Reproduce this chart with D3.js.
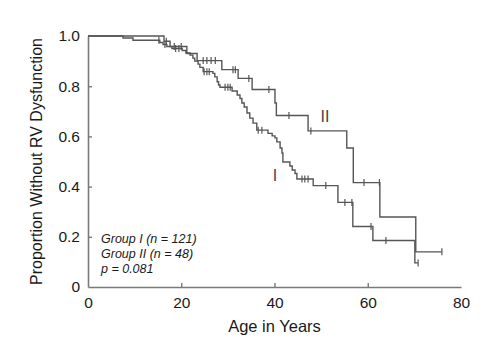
<!DOCTYPE html>
<html>
<head>
<meta charset="utf-8">
<script src="https://cdn.jsdelivr.net/npm/d3@7"></script>
<style>
  body { margin: 0; background: #fff; }
  svg { display: block; font-family: "Liberation Sans", Arial, sans-serif; }
</style>
</head>
<body>
<svg id="chart"></svg>
<script>
// step times (age) and survival after each step
const group1Times = [7.5, 9.65, 15.4, 16.1, 16.9, 18.0, 20.2, 21.0, 21.9, 22.5, 22.9, 23.6, 24.0, 24.7,
  26.8, 27.2, 27.7, 28.0, 28.3, 30.9, 32.0, 32.6, 33.0, 33.5, 34.1, 34.7, 35.4, 36.2,
  38.6, 39.5, 40.1, 40.5, 41.2, 41.6, 41.8, 43.3, 43.8, 44.4, 44.8, 48.3, 53.6, 56.8, 61.1, 70.1];
const group1Surv = [0.992, 0.983, 0.974, 0.966, 0.958, 0.950, 0.942, 0.932, 0.924, 0.912, 0.900, 0.888, 0.875, 0.858,
  0.851, 0.837, 0.818, 0.805, 0.796, 0.781, 0.765, 0.751, 0.733, 0.717, 0.693, 0.673, 0.653, 0.625,
  0.612, 0.602, 0.594, 0.578, 0.554, 0.534, 0.498, 0.482, 0.466, 0.452, 0.430, 0.404, 0.337, 0.241, 0.185, 0.096];
const group1Censor = [15.2, 16.5, 18.8, 19.5, 24.9, 25.5, 26.0, 29.4, 30.0, 30.5, 36.5, 37.3,
  45.9, 46.5, 47.2, 51.0, 55.1, 56.6, 60.7, 63.9, 70.8];
const group1End = 70.8;

const group2Times = [16.3, 17.6, 21.2, 23.4, 28.7, 32.2, 35.2, 40.1, 40.4, 47.2, 55.5, 56.9, 62.6, 70.3];
const group2Surv = [0.979, 0.958, 0.930, 0.902, 0.866, 0.831, 0.787, 0.733, 0.683, 0.622, 0.554, 0.416, 0.279, 0.140];
const group2Censor = [16.8, 18.5, 20.0, 24.7, 25.5, 26.4, 27.3, 31.1, 31.6, 34.5, 38.8, 43.1, 47.8, 59.2, 62.5, 75.9];
const group2End = 75.9;

const xTicks = [0, 20, 40, 60, 80];
const yTicks = [0, 0.2, 0.4, 0.6, 0.8, 1.0];
const legendLines = ["Group I (n = 121)", "Group II (n = 48)", "p = 0.081"];

const width = 500, height = 357;
const svg = d3.select("#chart").attr("width", width).attr("height", height);

const x = d3.scaleLinear().domain([0, 80]).range([88, 461]);
const y = d3.scaleLinear().domain([0, 1]).range([287, 36]);

const axisColor = "#7a7a7a";
const lineColor = "#555";
const textColor = "#1a1a1a";

// axes
const xAxis = d3.axisBottom(x).tickValues(xTicks).tickSizeInner(-4).tickSizeOuter(0).tickPadding(10);
const yAxis = d3.axisLeft(y).tickValues(yTicks).tickSizeInner(-4).tickSizeOuter(0).tickPadding(8)
  .tickFormat(d => d === 0 ? "0" : d3.format(".1f")(d));

const gx = svg.append("g").attr("transform", `translate(0, ${y(0)})`).call(xAxis);
const gy = svg.append("g").attr("transform", `translate(${x(0)}, 0)`).call(yAxis);
[gx, gy].forEach(g => {
  g.select(".domain").attr("stroke", axisColor).attr("stroke-width", 1.6);
  g.selectAll(".tick line").attr("stroke", axisColor).attr("stroke-width", 1.4);
  g.selectAll(".tick text").attr("fill", textColor).style("font-size", "15.5px");
});
gx.selectAll(".tick").filter(d => d === 0 || d === 80).select("line").remove();
gy.selectAll(".tick").filter(d => d === 0 || d === 1).select("line").remove();

svg.append("text")
  .attr("x", (x(0) + x(80)) / 2).attr("y", 332)
  .attr("text-anchor", "middle").attr("fill", textColor)
  .style("font-size", "16.5px").text("Age in Years");

svg.append("text")
  .attr("transform", `translate(42, ${(y(0) + y(1)) / 2}) rotate(-90)`)
  .attr("text-anchor", "middle").attr("fill", textColor)
  .style("font-size", "16px").text("Proportion Without RV Dysfunction");

// build step curves
function stepPoints(times, surv, end) {
  const pts = [[0, 1]];
  times.forEach((t, i) => pts.push([t, surv[i]]));
  pts.push([end, surv[surv.length - 1]]);
  return pts;
}
function survAt(times, surv, t) {
  let s = 1;
  times.forEach((tt, i) => { if (tt <= t) s = surv[i]; });
  return s;
}

const line = d3.line().x(d => x(d[0])).y(d => y(d[1])).curve(d3.curveStepAfter);

const groups = [
  { times: group1Times, surv: group1Surv, censor: group1Censor, end: group1End },
  { times: group2Times, surv: group2Surv, censor: group2Censor, end: group2End }
];

groups.forEach(g => {
  svg.append("path")
    .datum(stepPoints(g.times, g.surv, g.end))
    .attr("d", line)
    .attr("fill", "none")
    .attr("stroke", lineColor)
    .attr("stroke-width", 1.4);
  svg.append("g").selectAll("line")
    .data(g.censor)
    .join("line")
    .attr("x1", d => x(d)).attr("x2", d => x(d))
    .attr("y1", d => y(survAt(g.times, g.surv, d)) - 3.5)
    .attr("y2", d => y(survAt(g.times, g.surv, d)) + 3.5)
    .attr("stroke", lineColor)
    .attr("stroke-width", 1.2);
});

// curve labels
svg.append("text").attr("x", 325).attr("y", 122).attr("text-anchor", "middle")
  .attr("fill", "#444").style("font-size", "16px").text("II");
svg.append("text").attr("x", 275).attr("y", 181).attr("text-anchor", "middle")
  .attr("fill", "#444").style("font-size", "16px").text("I");

// legend
svg.append("g").selectAll("text")
  .data(legendLines)
  .join("text")
  .attr("x", 101)
  .attr("y", (d, i) => 243 + i * 15)
  .attr("fill", textColor)
  .style("font-size", "12.5px")
  .style("font-style", "italic")
  .text(d => d);
</script>
</body>
</html>
